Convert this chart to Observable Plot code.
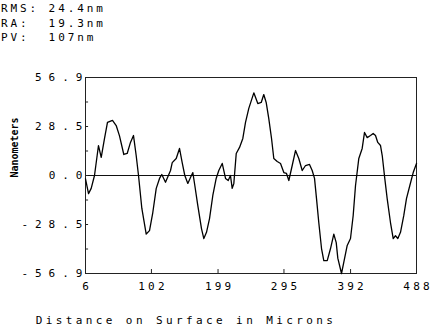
<!DOCTYPE html>
<html>
<head>
<meta charset="utf-8">
<script src="https://cdn.jsdelivr.net/npm/d3@7"></script>
<script src="https://cdn.jsdelivr.net/npm/@observablehq/plot@0.6"></script>
<style>
  html, body { margin: 0; padding: 0; background: #fff; }
  #wrap { position: relative; width: 432px; height: 329px; }
  #stats { position: absolute; left: 1px; top: 2px; font-family: "DejaVu Sans Mono", monospace; font-size: 11px; letter-spacing: 2.9px; line-height: 14.5px; color: #000; white-space: pre; }
  svg { position: absolute; left: 0; top: 0; }
  g[aria-label="y-axis tick label"] text { letter-spacing: 7px; }
  g[aria-label="x-axis tick label"] text { letter-spacing: 3.2px; }
</style>
</head>
<body>
<div id="wrap"><div id="stats"></div></div>
<script>
// statistics block
const statLabels = ["RMS:", "RA:", "PV:"];
const statValues = ["24.4nm", "19.3nm", "107nm"];

// profile: distance (microns) and height (nanometers)
const distance = [6, 10.4, 14.3, 19.1, 24.9, 28.9, 33.7, 38.0, 45.3, 50.7, 55.5, 61.8, 66.7, 71.5, 75.9, 79.8,
  83.2, 88.0, 94.4, 99.2, 104.0, 109.0, 113.8, 117.1, 122.5, 129.8, 132.3, 138.1, 142.9, 146.8, 150.6, 155.0,
  158.9, 162.3, 165.2, 169.5, 174.9, 178.3, 182.2, 186.6, 191.4, 196.3, 200.1, 205.1, 209.9, 213.8, 217.1,
  219.6, 222.0, 225.5, 230.3, 235.1, 239.0, 243.8, 251.1, 256.9, 261.9, 265.6, 269.1, 272.9, 276.9, 280.2,
  285.2, 290.0, 294.8, 298.7, 302.1, 307.0, 311.8, 316.6, 321.6, 326.4, 332.2, 336.1, 339.5, 342.4, 345.7,
  349.7, 353.0, 358.0, 362.8, 367.6, 371.1, 373.4, 378.8, 382.1, 387.1, 391.9, 395.8, 399.2, 404.0, 408.9,
  412.3, 416.2, 421.0, 424.9, 428.3, 431.6, 435.6, 438.1, 441.8, 445.3, 450.1, 454.1, 457.4, 460.8, 464.7,
  469.5, 473.4, 478.3, 483.2, 488.0];
const height = [-2, -10.5, -7.5, 0, 17.4, 10.5, 21.5, 30.8, 32, 29, 23, 12.2, 12.8, 19.2, 23.2, 11.6,
  0, -19, -34, -32, -21.5, -7.5, -1.7, 0.6, -3.9, 2.9, 7.5, 9.9, 15.7, 7.5, 0, -4.6,
  -1.2, 1.7, -5.8, -17.4, -30.8, -36.6, -33, -25, -11.6, -1.7, 2.9, 7, -1.7, -2.9, 0,
  -7.5, -4.6, 12.8, 16.3, 21.5, 30.8, 39, 48, 41.8, 42.4, 47, 42.4, 33, 21.5, 9.9,
  8.1, 7, 1.7, 1.2, -2.9, 5.8, 14.5, 9.9, 2.9, 5.8, 6.4, 2.9, -1.7, -13.4, -27.3,
  -42.4, -49.4, -49.4, -42.4, -34, -39, -48, -56.9, -50.5, -40.6, -36.6, -23.2, -5.8, 9.9, 15.7,
  25, 22, 23.2, 24.4, 23.2, 19.2, 17.4, 11.6, -1.7, -13.4, -27.3, -36.6, -35, -36.6, -33,
  -23.2, -13.4, -5.8, 1.7, 7];

const xTicks = [6, 102, 199, 295, 392, 488];
const yLabelTicks = [56.9, 28.5, 0, -28.5, -56.9];
const yTickLabels = ["56.9", "28.5", "0.0", "-28.5", "-56.9"];
const yMinorTicks = [56.9, 42.675, 28.45, 14.225, 0, -14.225, -28.45, -42.675, -56.9];
const xTitle = "Distance on Surface in Microns";
const yTitle = "Nanometers";

document.getElementById("stats").textContent =
  statLabels.map((l, i) => l.padEnd(5, " ") + statValues[i]).join("\n");

const data = distance.map((d, i) => ({d, h: height[i]}));
const font = "'DejaVu Sans Mono', monospace";

const chart = Plot.plot({
  width: 432,
  height: 329,
  marginLeft: 85,
  marginRight: 16,
  marginTop: 77,
  marginBottom: 56,
  style: {fontFamily: font, fontSize: "11px", color: "#000", background: "transparent"},
  x: {domain: [6, 488]},
  y: {domain: [-56.9, 56.9]},
  marks: [
    Plot.frame({stroke: "#222", strokeWidth: 1}),
    Plot.ruleY([0], {stroke: "#111", strokeWidth: 1.1}),
    Plot.ruleY(yMinorTicks, {y: d => d, x1: 6, x2: 10.5, stroke: "#222"}),
    Plot.ruleX(xTicks, {x: d => d, y1: -56.9, y2: -54.6, stroke: "#222"}),
    Plot.axisY({ticks: yLabelTicks, tickFormat: d => yTickLabels[yLabelTicks.indexOf(d)], tickSize: 0, tickPadding: 0, dx: 4, label: null, fontSize: 11}),
    Plot.axisX({ticks: xTicks, tickFormat: d => String(d), tickSize: 0, tickPadding: 9, dx: 1.6, label: null, fontSize: 11}),
    Plot.line(data, {x: "d", y: "h", stroke: "#000", strokeWidth: 1.3, curve: "linear"}),
    Plot.text([xTitle], {text: d => d, frameAnchor: "bottom", dx: -65, dy: 47, lineAnchor: "middle", fontSize: 11}),
    Plot.text([yTitle], {text: d => d, frameAnchor: "left", textAnchor: "middle", rotate: -90, dx: -71, dy: -28, lineAnchor: "middle", fontSize: 10, fontWeight: "bold"})
  ]
});
d3.select(chart).selectAll("text").filter(function() { return this.textContent === xTitle; })
  .style("letter-spacing", "3.4px");
document.getElementById("wrap").appendChild(chart);
</script>
</body>
</html>
